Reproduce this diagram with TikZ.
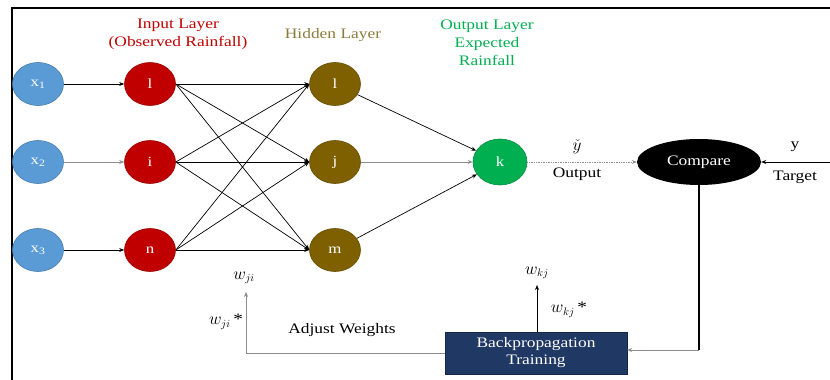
\documentclass[tikz,border=0pt]{standalone}
\usepackage{fontspec}
\setmainfont{Liberation Serif}[FakeStretch=1.2]
\usetikzlibrary{shapes.geometric,arrows.meta}
\definecolor{inblue}{HTML}{5B9BD5}
\definecolor{inred}{HTML}{C00000}
\definecolor{hidbrown}{HTML}{7F6000}
\definecolor{outgreen}{HTML}{00B050}
\definecolor{boxblue}{HTML}{1F3864}
\definecolor{titlebrown}{HTML}{8C7A3C}
\begin{document}
\begin{tikzpicture}[x=1pt,y=-1pt,
  every node/.style={font=\fontsize{14}{16}\selectfont},
  neuron/.style={ellipse,minimum width=51pt,minimum height=43pt,inner sep=0pt,text=white},
  xin/.style={neuron,fill=inblue,draw=inblue!80!black,line width=0.6pt},
  inn/.style={neuron,fill=inred,draw=inred!80!black,line width=0.6pt},
  hid/.style={neuron,fill=hidbrown,draw=hidbrown!80!black,line width=0.6pt},
  outn/.style={neuron,fill=outgreen,draw=outgreen!80!black,line width=0.6pt,minimum width=54pt,minimum height=46pt},
  conn/.style={line width=0.7pt,-{Stealth[length=5pt,width=4pt]}},
  gconn/.style={conn,draw=black!45},
  lbl/.style={font=\fontsize{14.5}{16}\selectfont},
  mlbl/.style={font=\fontsize{16}{18}\selectfont},
  title/.style={font=\fontsize{14.5}{18}\selectfont,align=center}]
\useasboundingbox (0,0) rectangle (830,380);
% frame
\draw[line width=2pt] (12,380) -- (12,8) -- (830,8);
% titles
\node[title,text=inred] (tin) at (178,34) {Input Layer\\(Observed Rainfall)};
\node[title,text=titlebrown] (thid) at (333,35) {Hidden Layer};
\node[title,text=outgreen] (tout) at (487,43) {Output Layer\\Expected\\Rainfall};
% nodes
\node[xin] (x1) at (38,84) {x\textsubscript{1}};
\node[xin] (x2) at (38,162) {x\textsubscript{2}};
\node[xin] (x3) at (38,250) {x\textsubscript{3}};
\node[inn] (il) at (150,84) {l};
\node[inn] (ii) at (150,162) {i};
\node[inn] (in) at (150,250) {n};
\node[hid] (hl) at (335,84) {l};
\node[hid] (hj) at (335,162) {j};
\node[hid] (hm) at (335,250) {m};
\node[outn] (k) at (500,162) {k};
\node[ellipse,fill=black,minimum width=124pt,minimum height=46pt,inner sep=0pt,text=white,lbl] (cmp) at (699,162) {Compare};
\node[rectangle,fill=boxblue,draw=boxblue!70!black,minimum width=182pt,minimum height=42pt,inner sep=0pt,text=white,align=center,font=\fontsize{14.5}{17}\selectfont] (bp) at (536,353) {Backpropagation\\Training};
% input connections
\draw[conn] (x1) -- (il);
\draw[gconn] (x2) -- (ii);
\draw[conn] (x3) -- (in);
% full connections
\foreach \a in {il,ii,in}{
  \foreach \b in {hl,hj,hm}{
    \draw[conn] (\a.east) -- (\b.west);
  }
}
\draw[conn] (hl) -- (k);
\draw[gconn] (hj) -- (k);
\draw[conn] (hm) -- (k);
% output to compare
\draw[gconn,densely dotted] (k) -- (cmp);
\node[mlbl] (yhat) at (577,147) {$\check{y}$};
\node[lbl] (outl) at (577,174) {Output};
% target
\coordinate (tgt) at (830,162);
\draw[conn] (tgt) -- (cmp);
\node[lbl] (yl) at (795,147) {y};
\node[lbl] (tl) at (795,177) {Target};
% compare to backprop
\coordinate (c1) at (699,350);
\draw[line width=1.8pt] (cmp.south) -- (c1);
\draw[gconn] (c1) -- (bp.east |- c1);
% backprop up
\coordinate (wkj) at (537,285);
\draw[conn] (bp.north -| wkj) -- (wkj);
\node[mlbl] (wkjl) at (537,273) {$w_{kj}$};
\node[mlbl] (wkjs) at (569,310) {$w_{kj}$\,*};
% backprop left
\coordinate (c2) at (246,353);
\coordinate (wji) at (246,292);
\draw[gconn] (bp.west) -- (c2) -- (wji);
\node[mlbl] (wjil) at (244,278) {$w_{ji}$};
\node[mlbl] (wjis) at (226,322) {$w_{ji}$\,*};
\node[lbl] (adj) at (342,330) {Adjust Weights};
\end{tikzpicture}
\end{document}
